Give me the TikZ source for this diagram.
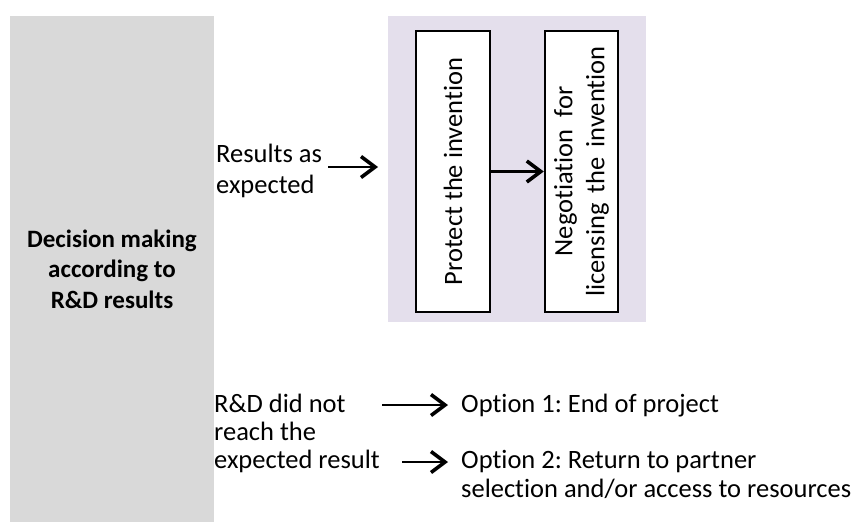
\documentclass[tikz,border=0pt]{standalone}
\usepackage{fontspec}
\setmainfont{Carlito}[Ligatures=NoCommon]
\usetikzlibrary{arrows.meta}
\definecolor{panelgray}{HTML}{D9D9D9}
\definecolor{lavender}{HTML}{E4DFEC}
\frenchspacing
\begin{document}
\begin{tikzpicture}[x=1pt,y=-1pt,
  txt/.style={inner sep=0pt, font=\fontsize{26.5}{31}\selectfont},
  stagebox/.style={draw=black, line width=2.4pt, fill=white, inner sep=0pt,
    rotate=90, font=\fontsize{26.5}{32}\selectfont, align=center},
  flow/.style={line width=2.8pt,
    -{Straight Barb[length=14pt,width=21pt,line width=3.6pt]}}]
\useasboundingbox (0,0) rectangle (858,522);

% decision column
\node[fill=panelgray, inner sep=0pt, minimum width=204pt, minimum height=506pt,
  font=\fontsize{25}{30.5}\bfseries, align=center] (decision) at (112,269)
  {Decision making\\according to\\R\&D results};

% protection / licensing stage
\node[fill=lavender, inner sep=0pt, minimum width=258pt, minimum height=306pt]
  (ipzone) at (517,169) {};
\node[stagebox, minimum width=281pt, minimum height=74pt] (protect) at (453,171.5)
  {Protect the invention};
\node[stagebox, minimum width=281pt, minimum height=73pt] (license) at (581.5,171.5)
  {Negotiation\hspace{6pt} for\\licensing\hspace{4pt} the\hspace{4pt} invention};

% positive outcome
\node[txt, anchor=base west] (okline1) at (216,162) {Results as};
\node[txt, anchor=base west] (okline2) at (216,193) {expected};
\coordinate (okfrom) at (328,167);
\coordinate (okto) at (378,167);
\draw[flow] (okfrom) -- (okto);
\draw[flow] (protect.south) -- (license.north);

% negative outcome
\node[txt, anchor=base west] (noline1) at (214,412) {R\&D did not};
\node[txt, anchor=base west] (noline2) at (214,440) {reach the};
\node[txt, anchor=base west] (noline3) at (214,468) {expected result};
\node[txt, anchor=base west] (opt1) at (461,412) {Option 1: End of project};
\node[txt, anchor=base west] (opt2a) at (461,468) {Option 2: Return to partner};
\node[txt, anchor=base west] (opt2b) at (461,497) {selection and/or access to resources};
\coordinate (nofromA) at (382,405);
\coordinate (notoA) at (448,405);
\coordinate (nofromB) at (402,462);
\coordinate (notoB) at (448,462);
\draw[flow] (nofromA) -- (notoA);
\draw[flow] (nofromB) -- (notoB);
\end{tikzpicture}
\end{document}
